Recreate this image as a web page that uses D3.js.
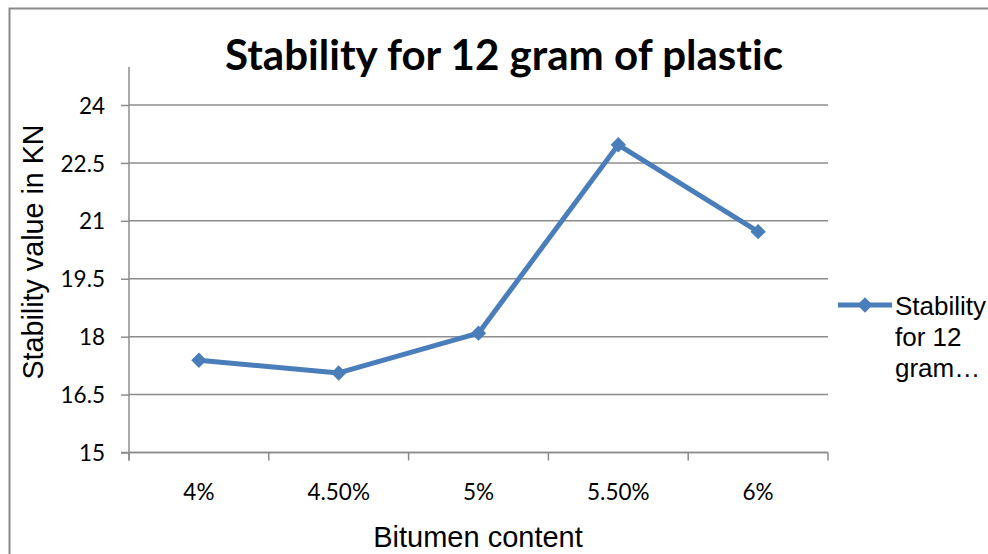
<!DOCTYPE html>
<html>
<head>
<meta charset="utf-8">
<script src="https://cdn.jsdelivr.net/npm/d3@7"></script>
<style>
  html, body { margin: 0; padding: 0; background: #fff; }
  svg { display: block; }
  text { font-variant-ligatures: none; }
</style>
</head>
<body>
<script>
// Bitumen content categories and measured Marshall stability (kN)
const categories = ["4%", "4.50%", "5%", "5.50%", "6%"];
const stability = [17.39, 17.06, 18.09, 22.97, 20.72];
const yTicks = [15, 16.5, 18, 19.5, 21, 22.5, 24];
const yTickLabels = ["15", "16.5", "18", "19.5", "21", "22.5", "24"];
const seriesName = "Stability for 12 gram of plastic";
const legendLines = ["Stability", "for 12", "gram\u2026"];

const W = 988, H = 554;
const plot = { left: 129, right: 828, top: 105, bottom: 452.5 };
const blue = "#4a7ebb";
const grid = "#8c8c8c";
const tickFont = "Lato, 'DejaVu Sans', sans-serif";
const arial = "'Liberation Sans', Arial, sans-serif";

const svg = d3.select("body").append("svg")
  .attr("width", W).attr("height", H);

// chart frame
svg.append("rect")
  .attr("x", 9.5).attr("y", 8.5)
  .attr("width", W + 20).attr("height", H + 20)
  .attr("fill", "#fff").attr("stroke", "#8a8a8a").attr("stroke-width", 2);

const x = d3.scaleBand().domain(categories).range([plot.left, plot.right]).padding(0);
const y = d3.scaleLinear().domain([15, 24]).range([plot.bottom, plot.top]);

// horizontal gridlines
svg.append("g")
  .selectAll("line").data(yTicks).join("line")
  .attr("x1", plot.left).attr("x2", plot.right)
  .attr("y1", d => y(d)).attr("y2", d => y(d))
  .attr("stroke", grid).attr("stroke-width", 1.5);

// y axis
const yAxis = svg.append("g")
  .attr("transform", `translate(${plot.left},0)`)
  .call(d3.axisLeft(y).tickValues(yTicks)
    .tickFormat((d, i) => yTickLabels[i]).tickSize(8).tickPadding(6));
yAxis.select(".domain").attr("stroke", grid).attr("stroke-width", 1.5)
  .attr("d", `M0,${plot.top - 38}V${plot.bottom + 8}`);
yAxis.selectAll(".tick line").attr("stroke", grid).attr("stroke-width", 1.5);
yAxis.selectAll(".tick text")
  .attr("fill", "#000").style("font-family", tickFont)
  .style("font-size", "22.5px").attr("x", -24).attr("dy", "0.36em");

// x axis
const xAxis = svg.append("g")
  .attr("transform", `translate(0,${plot.bottom})`)
  .call(d3.axisBottom(x).tickSize(0).tickPadding(0));
xAxis.select(".domain").attr("stroke", grid).attr("stroke-width", 1.5)
  .attr("d", `M${plot.left - 8},0H${plot.right}`);
xAxis.selectAll(".tick line").remove();
xAxis.selectAll(".tick text")
  .attr("fill", "#000").attr("y", 47.5).attr("dy", 0)
  .style("font-family", tickFont).style("font-size", "22.5px");
// category boundary ticks
const bounds = categories.map(c => x(c)).concat([plot.right]);
svg.append("g").selectAll("line").data(bounds).join("line")
  .attr("x1", d => d).attr("x2", d => d)
  .attr("y1", plot.bottom).attr("y2", plot.bottom + 8)
  .attr("stroke", grid).attr("stroke-width", 1.5);

// series line
const pts = categories.map((c, i) => [x(c) + x.bandwidth() / 2, y(stability[i])]);
svg.append("path")
  .attr("d", d3.line()(pts))
  .attr("fill", "none").attr("stroke", blue).attr("stroke-width", 5)
  .attr("stroke-linejoin", "round");

const diamond = d3.symbol().type(d3.symbolDiamond2).size(150);
svg.append("g").selectAll("path").data(pts).join("path")
  .attr("transform", d => `translate(${d[0]},${d[1]})`)
  .attr("d", diamond).attr("fill", blue);

// title
const title = svg.append("text")
  .attr("x", 504).attr("y", 70).attr("text-anchor", "middle")
  .style("font-family", "Lato, 'Open Sans', sans-serif").style("font-weight", "bold")
  .style("font-size", "38px").attr("fill", "#000")
  .text(seriesName);
const tw = title.node().getComputedTextLength();
title.style("font-size", (38 * 558 / tw).toFixed(2) + "px");

// axis titles
svg.append("text")
  .attr("x", 478).attr("y", 547).attr("text-anchor", "middle")
  .style("font-family", arial).style("font-size", "29px")
  .text("Bitumen content");
svg.append("text")
  .attr("transform", "translate(43,252) rotate(-90)").attr("text-anchor", "middle")
  .style("font-family", arial).style("font-size", "28.7px")
  .text("Stability value in KN");

// legend
const lg = svg.append("g");
lg.append("line").attr("x1", 838).attr("x2", 892).attr("y1", 305).attr("y2", 305)
  .attr("stroke", blue).attr("stroke-width", 5);
lg.append("path").attr("transform", "translate(865,305)").attr("d", diamond).attr("fill", blue);
lg.selectAll("text").data(legendLines).join("text")
  .attr("x", 895).attr("y", (d, i) => 315 + i * 31)
  .style("font-family", arial).style("font-size", "26px")
  .text(d => d);
</script>
</body>
</html>
